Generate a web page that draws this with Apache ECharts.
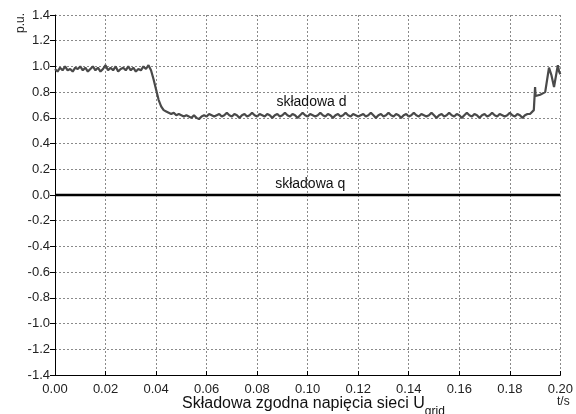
<!DOCTYPE html>
<html>
<head>
<meta charset="utf-8">
<script src="https://cdn.jsdelivr.net/npm/echarts@6/dist/echarts.min.js"></script>
<style>html,body{margin:0;padding:0;background:#fff}#c{width:576px;height:414px}</style>
</head>
<body>
<div id="c"></div>
<script>
// uniformly sampled part: t = 0.000 ... 0.188 s, step 0.001
const sampleStart = 0.0;
const sampleStep = 0.001;
const dValuesUniform = [
  0.98,0.96,0.99,0.97,1.00,0.97,0.98,0.96,0.99,0.98,
  1.00,0.97,0.99,0.96,0.98,1.00,0.97,0.99,0.96,0.98,
  1.01,0.97,0.99,0.97,1.00,0.96,0.98,0.99,0.97,1.00,
  0.97,0.99,0.96,0.98,0.97,1.00,0.98,1.01,0.97,0.90,
  0.82,0.74,0.69,0.66,0.65,0.64,0.63,0.64,0.62,0.63,
  0.62,0.61,0.62,0.61,0.60,0.62,0.60,0.59,0.61,0.62,
  0.61,0.63,0.62,0.61,0.62,0.63,0.61,0.62,0.64,0.62,
  0.61,0.63,0.62,0.60,0.62,0.63,0.61,0.62,0.64,0.62,
  0.61,0.63,0.62,0.61,0.63,0.62,0.60,0.62,0.63,0.61,
  0.62,0.64,0.62,0.61,0.63,0.62,0.60,0.62,0.64,0.62,
  0.61,0.63,0.62,0.61,0.62,0.64,0.62,0.61,0.63,0.62,
  0.60,0.62,0.63,0.61,0.62,0.64,0.62,0.61,0.63,0.62,
  0.61,0.62,0.63,0.61,0.62,0.64,0.62,0.60,0.62,0.63,
  0.61,0.62,0.64,0.62,0.61,0.63,0.62,0.60,0.62,0.63,
  0.61,0.62,0.64,0.62,0.61,0.63,0.62,0.61,0.62,0.64,
  0.62,0.60,0.62,0.63,0.61,0.62,0.64,0.62,0.61,0.63,
  0.62,0.60,0.62,0.64,0.62,0.61,0.63,0.62,0.60,0.62,
  0.63,0.61,0.62,0.64,0.62,0.61,0.63,0.62,0.61,0.62,
  0.64,0.62,0.61,0.63,0.62,0.60,0.62,0.63,0.63
];
// irregular tail (fault recovery)
const tailTimes  = [0.1895,0.1900,0.1902,0.1920,0.1940,0.1955,0.1965,0.1975,0.1990,0.1995,0.2000];
const tailValues = [0.66, 0.84, 0.77, 0.78, 0.80, 0.99, 0.93, 0.84, 1.01, 0.96, 0.94];
// q component
const qTimes  = [0.0, 0.2];
const qValues = [0.0, 0.0];

const yTicks = { min: -1.4, max: 1.4, interval: 0.2 };
const xTicks = { min: 0.0, max: 0.2, interval: 0.02 };

const dData = dValuesUniform.map((v, i) => [sampleStart + i * sampleStep, v])
  .concat(tailTimes.map((t, i) => [t, tailValues[i]]));
const qData = qTimes.map((t, i) => [t, qValues[i]]);

const chart = echarts.init(document.getElementById('c'));
const FONT = 'Liberation Sans, Arial, sans-serif';
chart.setOption({
  animation: false,
  backgroundColor: '#fff',
  grid: { left: 55, right: 12, top: 15, bottom: 39 },
  graphic: [
    { type: 'text', left: 15, top: 13, rotation: Math.PI / 2,
      style: { text: 'p.u.', font: '12px ' + FONT, fill: '#222' } },
    { type: 'text', left: 557, top: 396,
      style: { text: 't/s', font: '12px ' + FONT, fill: '#222' } },
    { type: 'text', left: 182, top: 395,
      style: {
        text: '{m|Składowa zgodna napięcia sieci U}{s|grid}',
        rich: {
          m: { fontFamily: FONT, fontSize: 16, fill: '#111', verticalAlign: 'top', lineHeight: 17, height: 17 },
          s: { fontFamily: FONT, fontSize: 12, fill: '#111', verticalAlign: 'top', lineHeight: 17, height: 17, padding: [8, 0, 0, 0] }
        }
      } }
  ],
  xAxis: {
    type: 'value', min: xTicks.min, max: xTicks.max, interval: xTicks.interval,
    axisLine: { show: true, onZero: false, lineStyle: { color: '#000', width: 1 } },
    axisTick: { show: true, inside: true, length: 4, lineStyle: { color: '#000' } },
    axisLabel: { formatter: v => v.toFixed(2), fontFamily: FONT, fontSize: 13, color: '#222', margin: 8 },
    splitLine: { show: true, lineStyle: { color: '#8a8a8a', type: [2, 2], width: 1 } }
  },
  yAxis: {
    type: 'value', min: yTicks.min, max: yTicks.max, interval: yTicks.interval,
    axisLine: { show: true, lineStyle: { color: '#000', width: 1 } },
    axisTick: { show: true, inside: false, length: 5, lineStyle: { color: '#000' } },
    axisLabel: { formatter: v => v.toFixed(1), fontFamily: FONT, fontSize: 13, color: '#222', margin: 5 },
    splitLine: { show: true, lineStyle: { color: '#8a8a8a', type: [2, 2], width: 1 } }
  },
  series: [
    {
      type: 'line', data: qData, showSymbol: false, z: 3,
      lineStyle: { color: '#000', width: 2.5 },
      markPoint: { symbol: 'circle', symbolSize: 0,
        data: [{ coord: [0.101, 0.085], value: 'składowa q' }],
        label: { show: true, position: 'inside', formatter: 'składowa q', fontFamily: FONT, fontSize: 14, color: '#111' } }
    },
    {
      type: 'line', data: dData, showSymbol: false, z: 4,
      lineStyle: { color: '#4a4a4a', width: 2.2 },
      markPoint: { symbol: 'circle', symbolSize: 0,
        data: [{ coord: [0.1015, 0.72], value: 'składowa d' }],
        label: { show: true, position: 'inside', formatter: 'składowa d', fontFamily: FONT, fontSize: 14, color: '#111' } }
    }
  ]
});
</script>
</body>
</html>
